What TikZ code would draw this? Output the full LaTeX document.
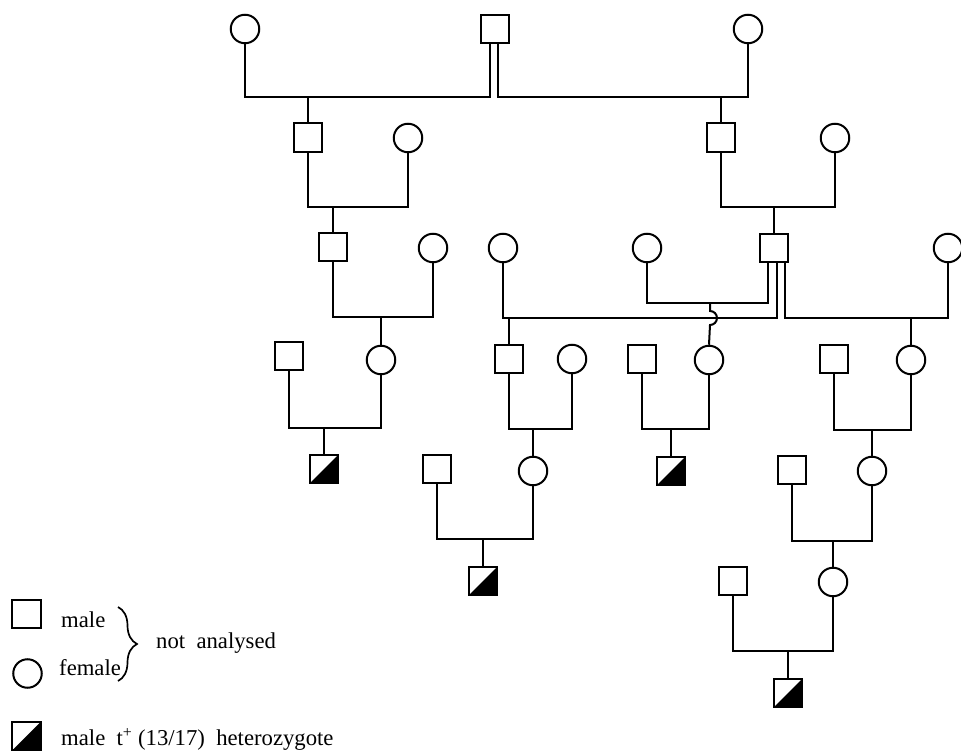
\documentclass[tikz,border=0pt]{standalone}
\usepackage{fontspec}
\setmainfont{Liberation Serif}
\usetikzlibrary{decorations.pathreplacing}
\begin{document}
\begin{tikzpicture}[x=1pt,y=-1pt,
  sq/.style={draw,rectangle,minimum size=28.5pt,inner sep=0pt,line width=2pt},
  ci/.style={draw,circle,minimum size=28.5pt,inner sep=0pt,line width=2pt},
  half/.style={sq,path picture={\fill[black] (path picture bounding box.south west) -- (path picture bounding box.north east) -- (path picture bounding box.south east) -- cycle;}},
  ln/.style={line width=2pt},
  lbl/.style={anchor=base west,inner sep=0pt,font=\fontsize{22.7}{27}\selectfont}]
\useasboundingbox (0,0) rectangle (961,751);
% generation 1
\node[ci] (F1) at (245,29) {};
\node[sq] (M1) at (495,29) {};
\node[ci] (F2) at (748,29) {};
% generation 2
\node[sq] (M2) at (308,137.5) {};
\node[ci] (F3) at (408,138) {};
\node[sq] (M3) at (721,137.5) {};
\node[ci] (F4) at (835,138) {};
% generation 3
\node[sq] (M4) at (333,247) {};
\node[ci] (F5) at (433,248) {};
\node[ci] (F6) at (503,248) {};
\node[ci] (F7) at (647,248) {};
\node[sq] (M5) at (774,248) {};
\node[ci] (F8) at (948,248) {};
% generation 4
\node[sq] (M6) at (289,356) {};
\node[ci] (F9) at (381,360) {};
\node[sq] (M7) at (509,359) {};
\node[ci] (F10) at (572,359) {};
\node[sq] (M9) at (642,359) {};
\node[ci] (F12) at (709,360) {};
\node[sq] (M10) at (834,359) {};
\node[ci] (F13) at (911,360) {};
% generation 5
\node[half] (H1) at (324,469) {};
\node[sq] (M8) at (437,469) {};
\node[ci] (F11) at (533,471) {};
\node[half] (H2) at (671,471) {};
\node[sq] (M11) at (792,470) {};
\node[ci] (F14) at (872,471) {};
% generation 6
\node[half] (H3) at (483,581) {};
\node[sq] (M12) at (733,581) {};
\node[ci] (F15) at (833,582) {};
% generation 7
\node[half] (H4) at (788,693) {};

% connectors generation 1
\coordinate (j1) at (490,97);
\coordinate (j2) at (498,97);
\coordinate (c1) at (308,97);
\coordinate (c2) at (721,97);
\draw[ln] (F1.south) |- (j1) -- (j1 |- M1.south);
\draw[ln] (j2 |- M1.south) -- (j2) -| (F2.south);
\draw[ln] (c1) -- (M2.north);
\draw[ln] (c2) -- (M3.north);
% generation 2
\coordinate (u2) at (333,207);
\coordinate (u3) at (774,207);
\draw[ln] (M2.south) |- (u2) -| (F3.south);
\draw[ln] (u2) -- (M4.north);
\draw[ln] (M3.south) |- (u3) -| (F4.south);
\draw[ln] (u3) -- (M5.north);
% generation 3
\coordinate (u4) at (381,317);
\draw[ln] (M4.south) |- (u4) -| (F5.south);
\draw[ln] (u4) -- (F9.north);
\coordinate (k1) at (768,303);
\coordinate (k2) at (777,318);
\coordinate (k3) at (785,318);
\coordinate (u5) at (509,318);
\coordinate (u6) at (911,318);
\coordinate (u7) at (710,303);
\draw[ln] (F7.south) |- (k1) -- (k1 |- M5.south);
\draw[ln] (F6.south) |- (k2) -- (k2 |- M5.south);
\draw[ln] (k3 |- M5.south) -- (k3) -| (F8.south);
\draw[ln] (u5) -- (M7.north);
\draw[ln] (u6) -- (F13.north);
\draw[ln] (u7) -- ++(0,8) arc[start angle=90,end angle=-90,radius=7pt] -- (F12.north);
% generation 4
\coordinate (u8) at (324,428);
\coordinate (u9) at (533,429);
\coordinate (u10) at (671,429);
\coordinate (u11) at (872,430);
\draw[ln] (M6.south) |- (u8) -| (F9.south);
\draw[ln] (u8) -- (H1.north);
\draw[ln] (M7.south) |- (u9) -| (F10.south);
\draw[ln] (u9) -- (F11.north);
\draw[ln] (M9.south) |- (u10) -| (F12.south);
\draw[ln] (u10) -- (H2.north);
\draw[ln] (M10.south) |- (u11) -| (F13.south);
\draw[ln] (u11) -- (F14.north);
% generation 5
\coordinate (u12) at (483,539);
\coordinate (u13) at (833,541);
\draw[ln] (M8.south) |- (u12) -| (F11.south);
\draw[ln] (u12) -- (H3.north);
\draw[ln] (M11.south) |- (u13) -| (F14.south);
\draw[ln] (u13) -- (F15.north);
% generation 6
\coordinate (u14) at (788,651);
\draw[ln] (M12.south) |- (u14) -| (F15.south);
\draw[ln] (u14) -- (H4.north);

% legend
\node[sq] (LM) at (26.5,614) {};
\node[ci] (LF) at (27.5,673.5) {};
\node[half] (LH) at (26.5,736) {};
\node[lbl] (tmale) at (61,627) {male};
\node[lbl] (tfemale) at (59,675) {female};
\node[lbl] (tnot) at (156,648) {not\ \ analysed};
\node[lbl] (thet) at (61,745) {male\ \ t\textsuperscript{+}\ (13/17)\ \ heterozygote};
\coordinate (b1) at (118,607);
\coordinate (b2) at (118,681);
\draw[line width=1.7pt,decorate,decoration={brace,amplitude=19pt}] (b1) -- (b2);
\end{tikzpicture}
\end{document}
